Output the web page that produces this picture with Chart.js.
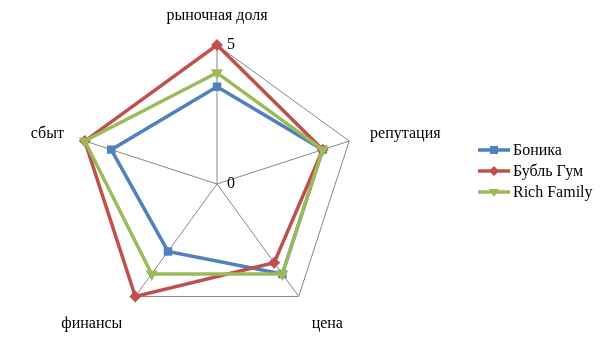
<!DOCTYPE html>
<html>
<head>
<meta charset="utf-8">
<script src="https://cdn.jsdelivr.net/npm/chart.js@4/dist/chart.umd.min.js"></script>
<style>
  html, body { margin: 0; padding: 0; background: #fff; }
  #wrap { width: 605px; height: 340px; }
</style>
</head>
<body>
<div id="wrap"><canvas id="radar" width="605" height="340"></canvas></div>
<script>
// data
const categories = ['рыночная доля', 'репутация', 'цена', 'финансы', 'сбыт'];
const seriesNames = ['Боника', 'Бубль Гум', 'Rich Family'];
const bonika = [3.5, 4, 4, 3, 4];
const bublGum = [5, 4, 3.5, 5, 5];
const richFamily = [4, 4, 4, 4, 5];
const tickValues = [0, 5];

const FONT = '16px "Liberation Serif", "Times New Roman", serif';

// marker drawing shared by legend
function marker(ctx, style, x, y, r) {
  ctx.beginPath();
  if (style === 'rect') {
    ctx.rect(x - r, y - r, r * 2, r * 2);
  } else if (style === 'rectRot') {
    ctx.moveTo(x, y - r - 1); ctx.lineTo(x + r + 1, y); ctx.lineTo(x, y + r + 1); ctx.lineTo(x - r - 1, y);
    ctx.closePath();
  } else {
    ctx.moveTo(x - r - 1, y - r + 1); ctx.lineTo(x + r + 1, y - r + 1); ctx.lineTo(x, y + r + 1);
    ctx.closePath();
  }
  ctx.fill();
}

const extras = {
  id: 'extras',
  afterDraw(chart) {
    const ctx = chart.ctx;
    const r = chart.scales.r;
    ctx.save();
    ctx.font = FONT;
    ctx.fillStyle = '#000';
    ctx.textBaseline = 'middle';

    // category labels around the web
    categories.forEach((label, i) => {
      const p = r.getPointPosition(i, r.drawingArea + 22);
      let y = p.y;
      if (Math.abs(p.x - r.xCenter) < 5) { ctx.textAlign = 'center'; y -= 7; }
      else ctx.textAlign = p.x > r.xCenter ? 'left' : 'right';
      if (p.y > r.yCenter + r.drawingArea * 0.5) y += 10;
      ctx.fillText(label, p.x, y);
    });

    // tick values along the first spoke
    ctx.textAlign = 'left';
    tickValues.forEach(v => {
      const p = r.getPointPositionForValue(0, v);
      ctx.fillText(String(v), p.x + 10, p.y);
    });

    // legend on the right
    chart.data.datasets.forEach((ds, i) => {
      const y = 150 + i * 21;
      ctx.strokeStyle = ds.borderColor;
      ctx.fillStyle = ds.borderColor;
      ctx.lineWidth = 3.5;
      ctx.beginPath(); ctx.moveTo(478, y); ctx.lineTo(510, y); ctx.stroke();
      marker(ctx, ds.pointStyle, 494, y, 4);
      ctx.fillStyle = '#000';
      ctx.fillText(ds.label, 513, y + 1);
    });
    ctx.restore();
  }
};

const colors = ['#4F81BD', '#C0504D', '#9BBB59'];
const styles = ['rect', 'rectRot', 'triangle'];
const values = [bonika, bublGum, richFamily];

new Chart(document.getElementById('radar').getContext('2d'), {
  type: 'radar',
  data: {
    labels: categories,
    datasets: seriesNames.map((name, i) => ({
      label: name,
      data: values[i],
      borderColor: colors[i],
      backgroundColor: colors[i],
      pointBackgroundColor: colors[i],
      pointBorderColor: colors[i],
      pointStyle: styles[i],
      pointRotation: i === 2 ? 180 : 0,
      pointRadius: 3.5,
      borderWidth: 3.5,
      fill: false,
      tension: 0,
      order: 3 - i,
    })),
  },
  options: {
    responsive: false,
    animation: false,
    layout: { padding: { left: 78, top: 45, right: 249, bottom: 17 } },
    plugins: { legend: { display: false }, tooltip: { enabled: false } },
    scales: {
      r: {
        min: 0,
        max: 5,
        ticks: { display: false, stepSize: 5 },
        grid: { color: '#868686', lineWidth: 1 },
        angleLines: { color: '#868686', lineWidth: 1 },
        pointLabels: { display: false },
      },
    },
  },
  plugins: [extras],
});
</script>
</body>
</html>
